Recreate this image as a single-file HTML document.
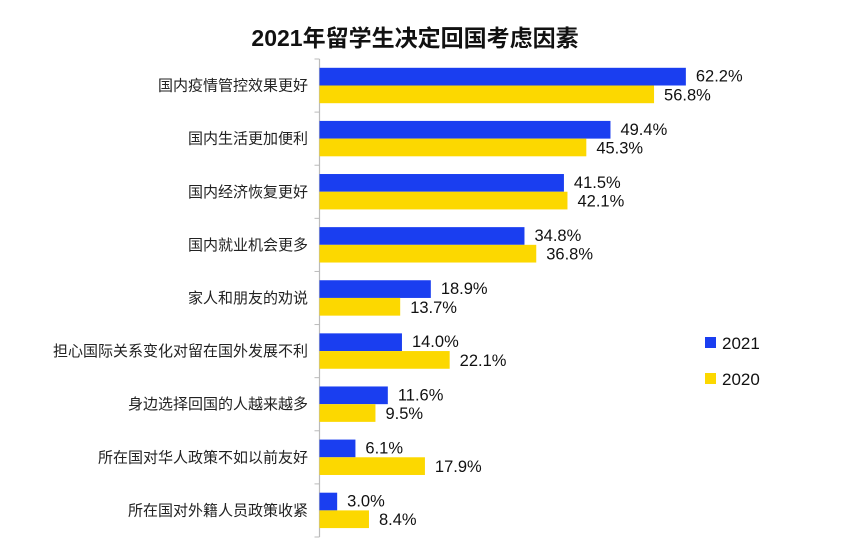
<!DOCTYPE html>
<html><head><meta charset="utf-8">
<style>
html,body{margin:0;padding:0;background:#fff;}
svg{display:block;font-family:"Liberation Sans","Noto Sans CJK SC",sans-serif;}
</style></head>
<body>
<svg id="chart" width="842" height="558" viewBox="0 0 842 558">
<text x="415" y="46" text-anchor="middle" font-size="23" font-weight="bold" fill="#111">2021年留学生决定回国考虑因素</text>
<g id="plot"></g>
<g>
<rect x="705" y="337" width="11" height="11" fill="#1a3ef0"/>
<text x="722" y="349" font-size="17" fill="#111">2021</text>
<rect x="705" y="373" width="11" height="11" fill="#fcd800"/>
<text x="722" y="385" font-size="17" fill="#111">2020</text>
</g>
</svg>
<script>
const categories = ["国内疫情管控效果更好","国内生活更加便利","国内经济恢复更好","国内就业机会更多","家人和朋友的劝说","担心国际关系变化对留在国外发展不利","身边选择回国的人越来越多","所在国对华人政策不如以前友好","所在国对外籍人员政策收紧"];
const values2021 = [62.2,49.4,41.5,34.8,18.9,14.0,11.6,6.1,3.0];
const values2020 = [56.8,45.3,42.1,36.8,13.7,22.1,9.5,17.9,8.4];

const NS="http://www.w3.org/2000/svg";
const plotG=document.getElementById('plot');
const x0=319.5, scale=5.89, plotTop=59, plotBottom=537;
const band=(plotBottom-plotTop)/categories.length;
const xPos=v=>x0+v*scale;
const yBand=i=>plotTop+i*band;
const barH=17.7;
function mk(tag,attrs){const e=document.createElementNS(NS,tag);for(const k in attrs)e.setAttribute(k,attrs[k]);plotG.appendChild(e);return e;}
const axis=mk('line',{x1:x0,y1:plotTop,x2:x0,y2:plotBottom,stroke:'#bbb','stroke-width':1.2});


categories.forEach((c,i)=>{
  const tk=mk('line',{x1:x0-5,y1:yBand(i),x2:x0,y2:yBand(i),stroke:'#bbb'});
  
  
  const yb=yBand(i)+8.8;
  const lab=mk('text',{x:308,y:yBand(i)+band/2+5,'text-anchor':'end','font-size':15,fill:'#222'});
  lab.textContent=c;
  
  
  const b1=mk('rect',{x:x0,y:yb,width:values2021[i]*scale,height:barH,fill:'#1a3ef0'});
  
  
  const b2=mk('rect',{x:x0,y:yb+barH,width:values2020[i]*scale,height:barH,fill:'#fcd800'});
  
  
  const t1=mk('text',{x:xPos(values2021[i])+10,y:yb+barH/2+5,'font-size':16.5,fill:'#111'});
  t1.textContent=values2021[i].toFixed(1)+'%';
  
  
  const t2=mk('text',{x:xPos(values2020[i])+10,y:yb+barH*1.5+6,'font-size':16.5,fill:'#111'});
  t2.textContent=values2020[i].toFixed(1)+'%';
  
  
});
const tkb=mk('line',{x1:x0-5,y1:plotBottom,x2:x0,y2:plotBottom,stroke:'#bbb'});


</script>
</body></html>
